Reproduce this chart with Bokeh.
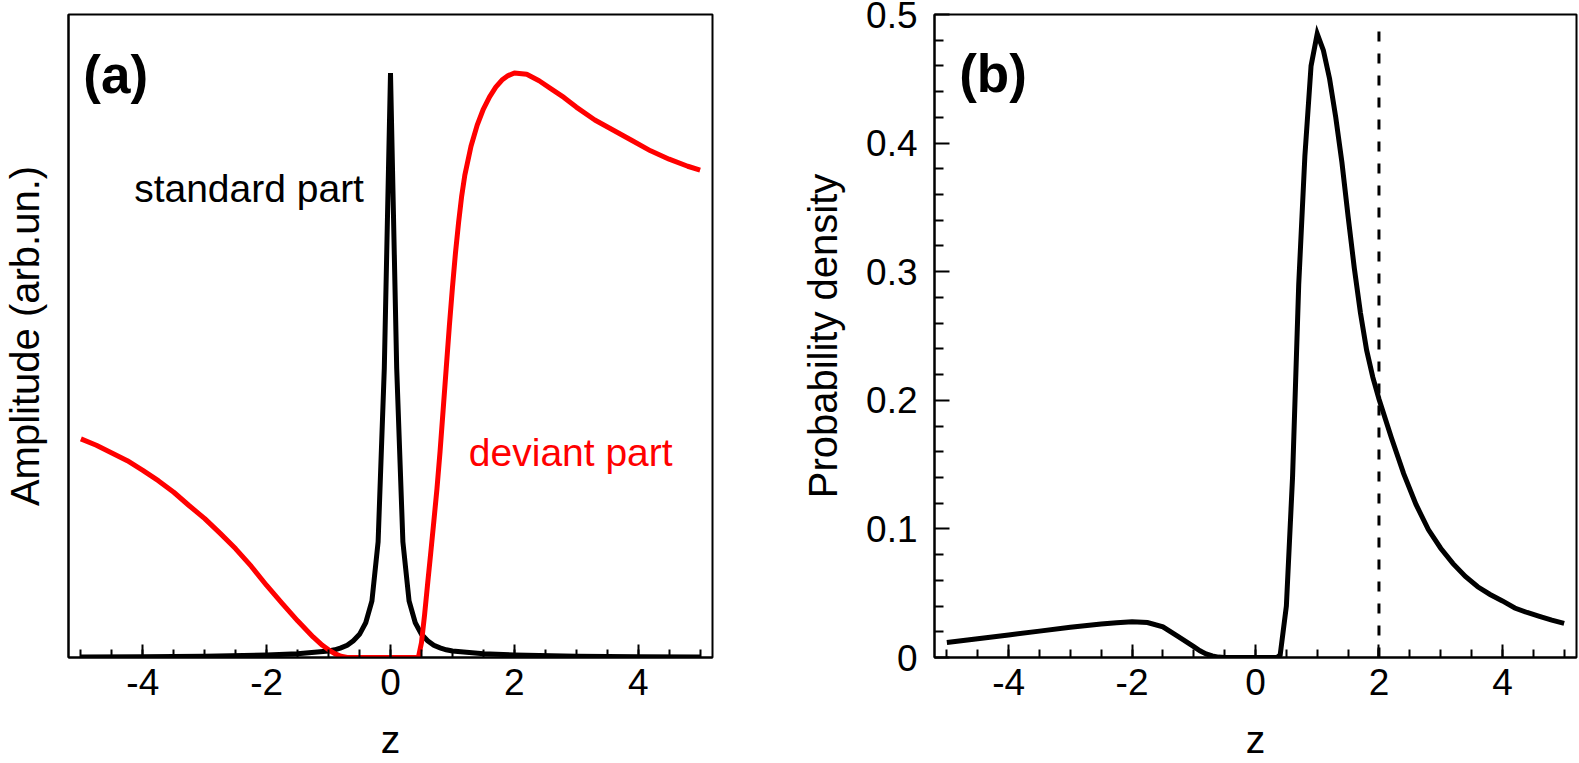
from bokeh.plotting import figure
from bokeh.layouts import row
from bokeh.models import FixedTicker, Range1d
from bokeh.core.properties import value
from bokeh.embed import file_html
from bokeh.resources import INLINE

# ---------------- data ----------------
# panel (a): standard part (black spike)
z_std = [-5.0, -4.0, -3.0, -2.0, -1.5, -1.0, -0.9, -0.8, -0.7, -0.6, -0.5, -0.4, -0.3, -0.2, -0.1,
         0.0, 0.1, 0.2, 0.3, 0.4, 0.5, 0.6, 0.7, 0.8, 0.9, 1.0, 1.5, 2.0, 3.0, 4.0, 5.0]
amp_std = [0.0008, 0.0012, 0.002, 0.004, 0.006, 0.010, 0.012, 0.015, 0.019, 0.026, 0.036, 0.054, 0.088,
           0.18, 0.45, 0.909, 0.45, 0.18, 0.088, 0.054, 0.036, 0.026, 0.019, 0.015, 0.012, 0.010,
           0.006, 0.004, 0.002, 0.0012, 0.0008]

# panel (a): deviant part (red)
z_dev = [-5.0, -4.75, -4.5, -4.25, -4.0, -3.75, -3.5, -3.25, -3.0, -2.75, -2.5, -2.25, -2.0, -1.75,
         -1.5, -1.25, -1.1, -1.0, -0.9, -0.8, -0.7, 0.0, 0.45,
         0.5, 0.55, 0.6, 0.65, 0.7, 0.75, 0.8, 0.85, 0.9, 0.95, 1.0, 1.05, 1.1, 1.15, 1.2, 1.3,
         1.4, 1.5, 1.6, 1.7, 1.8, 1.9, 2.0, 2.2, 2.4, 2.6, 2.8, 3.0, 3.3, 3.6, 3.9, 4.2, 4.5,
         4.8, 5.0]
amp_dev = [0.340, 0.330, 0.318, 0.306, 0.291, 0.275, 0.257, 0.236, 0.216, 0.193, 0.169, 0.142,
           0.112, 0.084, 0.057, 0.032, 0.019, 0.012, 0.006, 0.002, 0.0, 0.0, 0.0,
           0.023, 0.066, 0.115, 0.163, 0.212, 0.262, 0.320, 0.385, 0.450, 0.515, 0.575, 0.630,
           0.677, 0.718, 0.750, 0.795, 0.828, 0.853, 0.872, 0.887, 0.898, 0.905, 0.909, 0.907,
           0.897, 0.884, 0.871, 0.856, 0.836, 0.820, 0.804, 0.788, 0.775, 0.764, 0.758]

# panel (b): probability density
z_prob = [-5.0, -4.5, -4.0, -3.5, -3.0, -2.5, -2.25, -2.0, -1.75, -1.5, -1.25, -1.0, -0.9, -0.8,
          -0.7, -0.6, -0.5, 0.0, 0.35, 0.4, 0.5, 0.6, 0.7, 0.8, 0.9, 1.0, 1.1, 1.2, 1.3, 1.4, 1.5,
          1.6, 1.7, 1.8, 1.9, 2.0, 2.2, 2.4, 2.6, 2.8, 3.0, 3.2, 3.4, 3.6, 3.8, 4.0, 4.2, 4.4,
          4.6, 4.8, 5.0]
prob = [0.0117, 0.0145, 0.0175, 0.0205, 0.0235, 0.026, 0.027, 0.0278, 0.0272, 0.0238, 0.0162,
        0.0085, 0.0052, 0.0028, 0.0012, 0.0003, 0.0, 0.0, 0.0, 0.002, 0.04, 0.14, 0.29, 0.39,
        0.46, 0.485, 0.472, 0.45, 0.42, 0.385, 0.343, 0.303, 0.268, 0.239, 0.218, 0.201, 0.171,
        0.143, 0.119, 0.0995, 0.085, 0.073, 0.063, 0.055, 0.049, 0.044, 0.0385, 0.035, 0.032,
        0.029, 0.0265]

# vertical dashed marker in (b)
marker_z = [2.0, 2.0]
marker_p = [0.0, 0.492]

x_ticks = [-4, -2, 0, 2, 4]
x_tick_labels = ["-4", "-2", "0", "2", "4"]
x_minor = [-5.0, -4.5, -4.0, -3.5, -3.0, -2.5, -2.0, -1.5, -1.0, -0.5, 0.0,
           0.5, 1.0, 1.5, 2.0, 2.5, 3.0, 3.5, 4.0, 4.5, 5.0]
y_ticks_b = [0, 0.1, 0.2, 0.3, 0.4, 0.5]
y_tick_labels_b = ["0", "0.1", "0.2", "0.3", "0.4", "0.5"]
y_minor_b = [0.02, 0.04, 0.06, 0.08, 0.12, 0.14, 0.16, 0.18, 0.22, 0.24, 0.26, 0.28,
             0.32, 0.34, 0.36, 0.38, 0.42, 0.44, 0.46, 0.48]

FONT = "Liberation Sans"
H = 763


def style(p):
    p.xgrid.visible = False
    p.ygrid.visible = False
    p.outline_line_color = "black"
    p.outline_line_width = 2
    p.outline_line_alpha = 1.0
    p.background_fill_color = "white"
    p.border_fill_color = "white"
    xa = p.xaxis[0]
    xa.ticker = FixedTicker(ticks=x_ticks, minor_ticks=x_minor)
    xa.major_label_overrides = {t: l for t, l in zip(x_ticks, x_tick_labels)}
    xa.major_tick_in = 13
    xa.major_tick_out = 0
    xa.minor_tick_in = 8
    xa.minor_tick_out = 0
    xa.major_tick_line_width = 2
    xa.minor_tick_line_width = 2
    xa.axis_line_width = 2
    xa.major_label_text_font = FONT
    xa.major_label_text_font_size = "37px"
    xa.major_label_text_color = "black"
    xa.major_label_standoff = 11
    xa.axis_label = "z"
    xa.axis_label_text_font = FONT
    xa.axis_label_text_font_size = "39px"
    xa.axis_label_text_font_style = "normal"
    xa.axis_label_text_color = "black"
    xa.axis_label_standoff = 20


# ---------------- panel (a) ----------------
pa = figure(width=768, height=H, output_backend="svg", toolbar_location=None,
            x_range=Range1d(-5.2, 5.2), y_range=Range1d(0, 1.0),
            min_border_left=76, min_border_right=48, min_border_top=14, min_border_bottom=106,
            styles={"margin-left": "-8px"})
style(pa)
ya = pa.yaxis[0]
ya.ticker = FixedTicker(ticks=[], minor_ticks=[])
ya.major_tick_in = 0
ya.major_tick_out = 0
ya.minor_tick_in = 0
ya.minor_tick_out = 0
ya.axis_line_width = 2
ya.major_label_text_font_size = "0px"
ya.major_label_standoff = 0
ya.axis_label = "Amplitude (arb.un.)"
ya.axis_label_text_font = FONT
ya.axis_label_text_font_size = "40px"
ya.axis_label_text_font_style = "normal"
ya.axis_label_text_color = "black"
ya.axis_label_standoff = 22

pa.line(z_std, amp_std, line_color="black", line_width=5, line_join="miter")
pa.line(z_dev, amp_dev, line_color="#ff0000", line_width=5, line_join="round")

pa.text(x=[-4.96], y=[0.907], text=["(a)"], text_font=value(FONT), text_font_size=value("53px"),
        text_font_style="bold", text_color="black", text_baseline="alphabetic", text_align="left")
pa.text(x=[-4.14], y=[0.729], text=["standard part"], text_font=value(FONT),
        text_font_size=value("39px"), text_color="black", text_baseline="alphabetic", text_align="left")
pa.text(x=[1.265], y=[0.319], text=["deviant part"], text_font=value(FONT),
        text_font_size=value("39px"), text_color="#ff0000", text_baseline="alphabetic", text_align="left")

# ---------------- panel (b) ----------------
pb = figure(width=819, height=H, output_backend="svg", toolbar_location=None,
            x_range=Range1d(-5.2, 5.2), y_range=Range1d(0, 0.5),
            min_border_left=174, min_border_right=3, min_border_top=14, min_border_bottom=106)
style(pb)
yb = pb.yaxis[0]
yb.ticker = FixedTicker(ticks=y_ticks_b, minor_ticks=y_minor_b)
yb.major_label_overrides = {t: l for t, l in zip(y_ticks_b, y_tick_labels_b)}
yb.major_tick_in = 15
yb.major_tick_out = 0
yb.minor_tick_in = 9
yb.minor_tick_out = 0
yb.major_tick_line_width = 2
yb.minor_tick_line_width = 2
yb.axis_line_width = 2
yb.major_label_text_font = FONT
yb.major_label_text_font_size = "37px"
yb.major_label_text_color = "black"
yb.major_label_standoff = 17
yb.axis_label = "Probability density"
yb.axis_label_text_font = FONT
yb.axis_label_text_font_size = "40px"
yb.axis_label_text_font_style = "normal"
yb.axis_label_text_color = "black"
yb.axis_label_standoff = 18

pb.line(marker_z, marker_p, line_color="black", line_width=3, line_dash="10 12")
pb.line(z_prob, prob, line_color="black", line_width=5, line_join="miter")
pb.text(x=[-4.8], y=[0.4538], text=["(b)"], text_font=value(FONT), text_font_size=value("53px"),
        text_font_style="bold", text_color="black", text_baseline="alphabetic", text_align="left")

layout = row(pa, pb)
open("out.html", "w").write(file_html(layout, INLINE))
